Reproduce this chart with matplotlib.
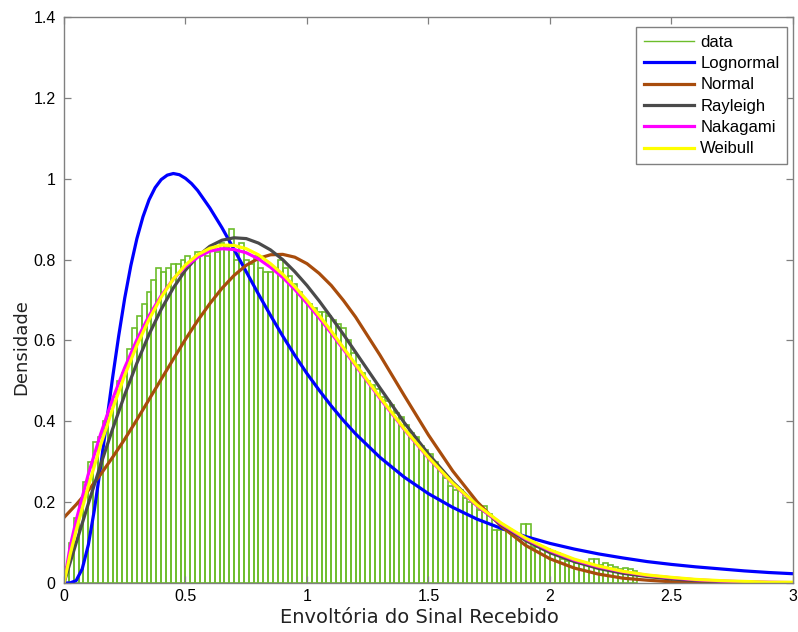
import numpy as np
import matplotlib
matplotlib.use('Agg')
import matplotlib.pyplot as plt
from matplotlib.lines import Line2D
from matplotlib.ticker import FuncFormatter

# histogram of the received envelope (bin width 0.02, starting at 0)
bin_width = 0.02
hist_density = [
    0.04, 0.10, 0.16, 0.20, 0.25, 0.30, 0.35, 0.36, 0.40, 0.43,
    0.46, 0.50, 0.52, 0.58, 0.63, 0.66, 0.69, 0.72, 0.75, 0.78,
    0.77, 0.78, 0.79, 0.79, 0.80, 0.81, 0.80, 0.82, 0.82, 0.81,
    0.83, 0.82, 0.84, 0.83, 0.875, 0.80, 0.84, 0.80, 0.79, 0.81,
    0.78, 0.77, 0.77, 0.78, 0.80, 0.78, 0.76, 0.74, 0.72, 0.70,
    0.69, 0.68, 0.67, 0.67, 0.66, 0.65, 0.64, 0.63, 0.60, 0.57,
    0.54, 0.52, 0.50, 0.49, 0.48, 0.46, 0.45, 0.44, 0.42, 0.41,
    0.39, 0.37, 0.36, 0.34, 0.33, 0.32, 0.30, 0.28, 0.26, 0.24,
    0.23, 0.23, 0.21, 0.20, 0.195, 0.18, 0.19, 0.17, 0.13, 0.13,
    0.13, 0.13, 0.125, 0.12, 0.145, 0.145, 0.09, 0.09, 0.085, 0.085,
    0.08, 0.075, 0.06, 0.055, 0.055, 0.05, 0.05, 0.05, 0.06, 0.06,
    0.045, 0.05, 0.045, 0.04, 0.035, 0.037, 0.035, 0.03,
]
bin_left = np.arange(len(hist_density)) * bin_width

# fitted densities
x_fit = [0.0, 0.025, 0.05, 0.1, 0.15, 0.2, 0.25, 0.3, 0.35, 0.4, 0.45, 0.5,
         0.55, 0.6, 0.65, 0.7, 0.75, 0.8, 0.85, 0.9, 0.95, 1.0, 1.05, 1.1,
         1.15, 1.2, 1.3, 1.4, 1.5, 1.6, 1.7, 1.8, 1.9, 2.0, 2.1, 2.2, 2.3,
         2.4, 2.5, 2.6, 2.7, 2.8, 2.9, 3.0]
normal = [0.162, 0.178, 0.194, 0.229, 0.268, 0.311, 0.356, 0.404, 0.454, 0.504,
          0.554, 0.603, 0.649, 0.691, 0.729, 0.761, 0.786, 0.803, 0.812, 0.813,
          0.806, 0.790, 0.766, 0.736, 0.699, 0.658, 0.564, 0.464, 0.366, 0.277,
          0.201, 0.140, 0.093, 0.060, 0.037, 0.022, 0.012, 0.007, 0.003, 0.002,
          0.001, 0.0004, 0.0002, 0.0001]
rayleigh = [0.0, 0.050, 0.099, 0.196, 0.291, 0.381, 0.466, 0.544, 0.615, 0.677,
            0.730, 0.774, 0.808, 0.833, 0.848, 0.854, 0.852, 0.841, 0.824, 0.800,
            0.770, 0.736, 0.698, 0.657, 0.615, 0.571, 0.483, 0.397, 0.319, 0.250,
            0.192, 0.144, 0.105, 0.075, 0.053, 0.036, 0.024, 0.016, 0.010, 0.006,
            0.004, 0.002, 0.001, 0.001]
nakagami = [0.0, 0.089, 0.155, 0.269, 0.367, 0.455, 0.533, 0.602, 0.661, 0.711,
            0.752, 0.783, 0.806, 0.821, 0.827, 0.825, 0.817, 0.802, 0.781, 0.756,
            0.726, 0.692, 0.656, 0.618, 0.578, 0.538, 0.457, 0.380, 0.309, 0.246,
            0.191, 0.146, 0.109, 0.080, 0.057, 0.040, 0.028, 0.019, 0.013, 0.008,
            0.005, 0.003, 0.002, 0.001]
weibull = [0.0, 0.070, 0.130, 0.239, 0.340, 0.431, 0.514, 0.588, 0.652, 0.707,
           0.752, 0.787, 0.812, 0.828, 0.836, 0.835, 0.827, 0.812, 0.790, 0.764,
           0.733, 0.699, 0.662, 0.623, 0.582, 0.541, 0.460, 0.382, 0.311, 0.247,
           0.193, 0.148, 0.111, 0.082, 0.059, 0.042, 0.029, 0.020, 0.014, 0.009,
           0.006, 0.004, 0.002, 0.002]

x_logn = [0.0, 0.025, 0.05, 0.075, 0.1, 0.125, 0.15, 0.175, 0.2, 0.225, 0.25,
          0.275, 0.3, 0.325, 0.35, 0.375, 0.4, 0.425, 0.45, 0.475, 0.5, 0.525,
          0.55, 0.6, 0.65, 0.7, 0.75, 0.8, 0.85, 0.9, 0.95, 1.0, 1.05, 1.1,
          1.15, 1.2, 1.3, 1.4, 1.5, 1.6, 1.7, 1.8, 1.9, 2.0, 2.1, 2.2, 2.3,
          2.4, 2.5, 2.6, 2.7, 2.8, 2.9, 3.0]
lognormal = [0.0, 0.0002, 0.006, 0.035, 0.094, 0.181, 0.285, 0.397, 0.508, 0.611,
             0.705, 0.785, 0.852, 0.906, 0.948, 0.978, 0.998, 1.009, 1.013, 1.010,
             1.001, 0.988, 0.971, 0.928, 0.879, 0.825, 0.770, 0.715, 0.662, 0.611,
             0.563, 0.518, 0.477, 0.438, 0.402, 0.369, 0.311, 0.262, 0.221, 0.187,
             0.158, 0.135, 0.115, 0.098, 0.084, 0.072, 0.062, 0.053, 0.046, 0.040,
             0.035, 0.030, 0.026, 0.023]

COLORS = {
    'data':      '#6cbd2b',
    'Lognormal': '#0000ff',
    'Normal':    '#a84c0c',
    'Rayleigh':  '#4a4a4a',
    'Nakagami':  '#ff00ff',
    'Weibull':   '#ffff00',
}
AXIS_GREY = '#808080'

plt.rcParams['font.family'] = ['Liberation Sans', 'DejaVu Sans']

fig = plt.figure(figsize=(7.98, 6.32), dpi=100)
ax = fig.add_axes([0.0802, 0.0775, 0.9135, 0.8955])

ax.bar(bin_left, hist_density, width=bin_width, align='edge',
       facecolor='none', edgecolor=COLORS['data'], linewidth=1.2, zorder=1)

curves = [
    ('Lognormal', x_logn, lognormal),
    ('Normal',    x_fit,  normal),
    ('Rayleigh',  x_fit,  rayleigh),
    ('Nakagami',  x_fit,  nakagami),
    ('Weibull',   x_fit,  weibull),
]
for name, xs, ys in curves:
    ax.plot(xs, ys, color=COLORS[name], linewidth=2.3,
            solid_joinstyle='round', zorder=2)

ax.set_xlim(0, 3)
ax.set_ylim(0, 1.4)
ax.set_xticks([0, 0.5, 1, 1.5, 2, 2.5, 3])
ax.set_yticks([0, 0.2, 0.4, 0.6, 0.8, 1.0, 1.2, 1.4])
fmt = FuncFormatter(lambda v, pos: '%g' % v)
ax.xaxis.set_major_formatter(fmt)
ax.yaxis.set_major_formatter(fmt)
ax.tick_params(direction='in', length=5, width=0.9, color=AXIS_GREY,
               top=True, right=True, labelsize=11.5)
ax.tick_params(axis='x', pad=4)
ax.tick_params(axis='y', pad=6)
for sp in ax.spines.values():
    sp.set_color(AXIS_GREY)
    sp.set_linewidth(1.0)

ax.set_xlabel('Envoltória do Sinal Recebido', fontsize=14,
              family='DejaVu Sans', color='#222222')
ax.set_ylabel('Densidade', fontsize=13, family='DejaVu Sans', color='#222222')
ax.xaxis.set_label_coords(0.488, -0.045)
ax.yaxis.set_label_coords(-0.046, 0.417)

handles = [Line2D([], [], color=COLORS['data'], linewidth=1.0)]
handles += [Line2D([], [], color=COLORS[n], linewidth=2.3) for n, _, _ in curves]
labels = ['data'] + [n for n, _, _ in curves]
leg = ax.legend(handles, labels, loc='upper right', bbox_to_anchor=(0.992, 0.982),
                borderaxespad=0, fontsize=12, fancybox=False, framealpha=1,
                handlelength=3.0, handletextpad=0.4, labelspacing=0.38,
                borderpad=0.45)
leg.get_frame().set_edgecolor(AXIS_GREY)
leg.get_frame().set_linewidth(1.0)

fig.savefig('out.png', dpi=100, facecolor='white')
plt.close(fig)
